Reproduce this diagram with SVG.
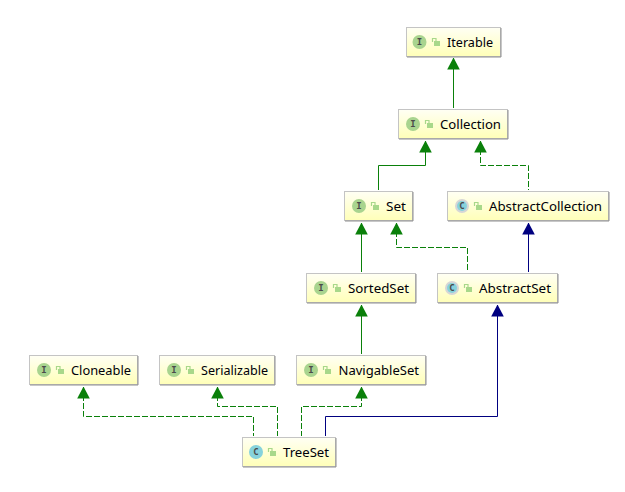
<svg xmlns="http://www.w3.org/2000/svg" xmlns:xlink="http://www.w3.org/1999/xlink" width="625" height="492" viewBox="0 0 625 492">
<style>
.box{fill:url(#nodeFill);stroke:#c4c4c4;stroke-width:1}
.shadow{fill:none;stroke:#8f8f8f;stroke-width:1}
.label{font-family:"Noto Sans","Liberation Sans",sans-serif;font-size:13px;fill:#000008}
.glyph{font-family:"DejaVu Sans Mono","Liberation Mono",monospace;font-size:9px;font-weight:bold;fill:#4a4a4a;text-anchor:middle}
.ci{fill:#a9d48f}.cc{fill:#86d2dc}.ca{fill:#d6d6d6}
.conn{fill:none;stroke-width:1}
.g{stroke:#0a800a}.b{stroke:#000080}
.d{stroke-dasharray:6 2}
</style>
<defs>
<linearGradient id="nodeFill" x1="0" y1="0" x2="0" y2="1"><stop offset="0" stop-color="#fffff4"/><stop offset="1" stop-color="#ffffb8"/></linearGradient>
<marker id="ag" markerUnits="userSpaceOnUse" markerWidth="14" markerHeight="13" refX="6.5" refY="0.5" orient="0" viewBox="0 0 13 13"><path d="M6.5 0L12.8 12H0.2Z" fill="#0a800a"/></marker>
<marker id="ab" markerUnits="userSpaceOnUse" markerWidth="14" markerHeight="13" refX="6.5" refY="0.5" orient="0" viewBox="0 0 13 13"><path d="M6.5 0L12.8 12H0.2Z" fill="#000080"/></marker>
<g id="lock"><rect x="-2" y="-1" width="6" height="5" fill="#a8d88a"/><path d="M-3.5 0V-3.5H0V-1" fill="none" stroke="#a8d88a" stroke-width="1.2"/></g>
</defs>

<g id="connectors">
<path class="conn g" marker-start="url(#ag)" d="M453.5 58V108"/>
<path class="conn g" marker-start="url(#ag)" d="M425.5 141V165.5H378.5V190"/>
<path class="conn g d" marker-start="url(#ag)" d="M480.5 141V165.5H528.5V190"/>
<path class="conn g" marker-start="url(#ag)" d="M361.5 223V272"/>
<path class="conn g d" marker-start="url(#ag)" d="M396.5 223V247.5H467.5V272"/>
<path class="conn b" marker-start="url(#ab)" d="M528.5 223V272"/>
<path class="conn g" marker-start="url(#ag)" d="M361.5 305V354"/>
<path class="conn b" marker-start="url(#ab)" d="M497.5 305V416.5H325.5V436"/>
<path class="conn g d" marker-start="url(#ag)" d="M361.5 387V406.5H301.5V436"/>
<path class="conn g d" marker-start="url(#ag)" d="M83.5 387V416.5H253.5V436"/>
<path class="conn g d" marker-start="url(#ag)" d="M217.5 387V406.5H277.5V436"/>
</g>

<g id="Iterable"><rect class="box" x="406.5" y="27.5" width="94" height="29"/><path class="shadow" d="M501 28V57H407"/>
<circle class="ci" cx="419.5" cy="42" r="7"/><text class="glyph" x="419.5" y="45">I</text><use xlink:href="#lock" href="#lock" x="436" y="42"/><text class="label" x="447" y="47" textLength="46" lengthAdjust="spacingAndGlyphs">Iterable</text></g>

<g id="Collection"><rect class="box" x="398.5" y="109.5" width="109" height="29"/><path class="shadow" d="M508 110V139H399"/>
<circle class="ci" cx="413" cy="124" r="7"/><text class="glyph" x="413" y="127">I</text><use xlink:href="#lock" href="#lock" x="429" y="124"/><text class="label" x="440" y="129" textLength="61" lengthAdjust="spacingAndGlyphs">Collection</text></g>

<g id="Set"><rect class="box" x="344.5" y="191.5" width="68" height="29"/><path class="shadow" d="M413 192V221H345"/>
<circle class="ci" cx="359" cy="206" r="7"/><text class="glyph" x="359" y="209">I</text><use xlink:href="#lock" href="#lock" x="375" y="206"/><text class="label" x="386" y="211" textLength="20" lengthAdjust="spacingAndGlyphs">Set</text></g>

<g id="AbstractCollection"><rect class="box" x="447.5" y="191.5" width="161" height="29"/><path class="shadow" d="M609 192V221H448"/>
<circle class="ca" cx="462" cy="206" r="7"/><circle class="cc" cx="462" cy="206" r="5"/><text class="glyph" x="462" y="209">C</text><use xlink:href="#lock" href="#lock" x="478" y="206"/><text class="label" x="489" y="211" textLength="113" lengthAdjust="spacingAndGlyphs">AbstractCollection</text></g>

<g id="SortedSet"><rect class="box" x="306.5" y="273.5" width="109" height="29"/><path class="shadow" d="M416 274V303H307"/>
<circle class="ci" cx="321" cy="288" r="7"/><text class="glyph" x="321" y="291">I</text><use xlink:href="#lock" href="#lock" x="337" y="288"/><text class="label" x="348" y="293" textLength="61" lengthAdjust="spacingAndGlyphs">SortedSet</text></g>

<g id="AbstractSet"><rect class="box" x="437.5" y="273.5" width="120" height="29"/><path class="shadow" d="M558 274V303H438"/>
<circle class="ca" cx="452" cy="288" r="7"/><circle class="cc" cx="452" cy="288" r="5"/><text class="glyph" x="452" y="291">C</text><use xlink:href="#lock" href="#lock" x="468" y="288"/><text class="label" x="479" y="293" textLength="72" lengthAdjust="spacingAndGlyphs">AbstractSet</text></g>

<g id="NavigableSet"><rect class="box" x="296.5" y="355.5" width="129" height="29"/><path class="shadow" d="M426 356V385H297"/>
<circle class="ci" cx="311" cy="370" r="7"/><text class="glyph" x="311" y="373">I</text><use xlink:href="#lock" href="#lock" x="327" y="370"/><text class="label" x="338.5" y="375" textLength="80.5" lengthAdjust="spacingAndGlyphs">NavigableSet</text></g>

<g id="Cloneable"><rect class="box" x="29.5" y="355.5" width="108" height="29"/><path class="shadow" d="M138 356V385H30"/>
<circle class="ci" cx="44" cy="370" r="7"/><text class="glyph" x="44" y="373">I</text><use xlink:href="#lock" href="#lock" x="60" y="370"/><text class="label" x="71" y="375" textLength="60" lengthAdjust="spacingAndGlyphs">Cloneable</text></g>

<g id="Serializable"><rect class="box" x="159.5" y="355.5" width="115" height="29"/><path class="shadow" d="M275 356V385H160"/>
<circle class="ci" cx="174" cy="370" r="7"/><text class="glyph" x="174" y="373">I</text><use xlink:href="#lock" href="#lock" x="190" y="370"/><text class="label" x="201" y="375" textLength="67" lengthAdjust="spacingAndGlyphs">Serializable</text></g>

<g id="TreeSet"><rect class="box" x="242.5" y="437.5" width="93" height="29"/><path class="shadow" d="M336 438V467H243"/>
<circle class="cc" cx="256" cy="452" r="7"/><text class="glyph" x="256" y="455">C</text><use xlink:href="#lock" href="#lock" x="272" y="452"/><text class="label" x="283" y="457" textLength="46" lengthAdjust="spacingAndGlyphs">TreeSet</text></g>
</svg>
